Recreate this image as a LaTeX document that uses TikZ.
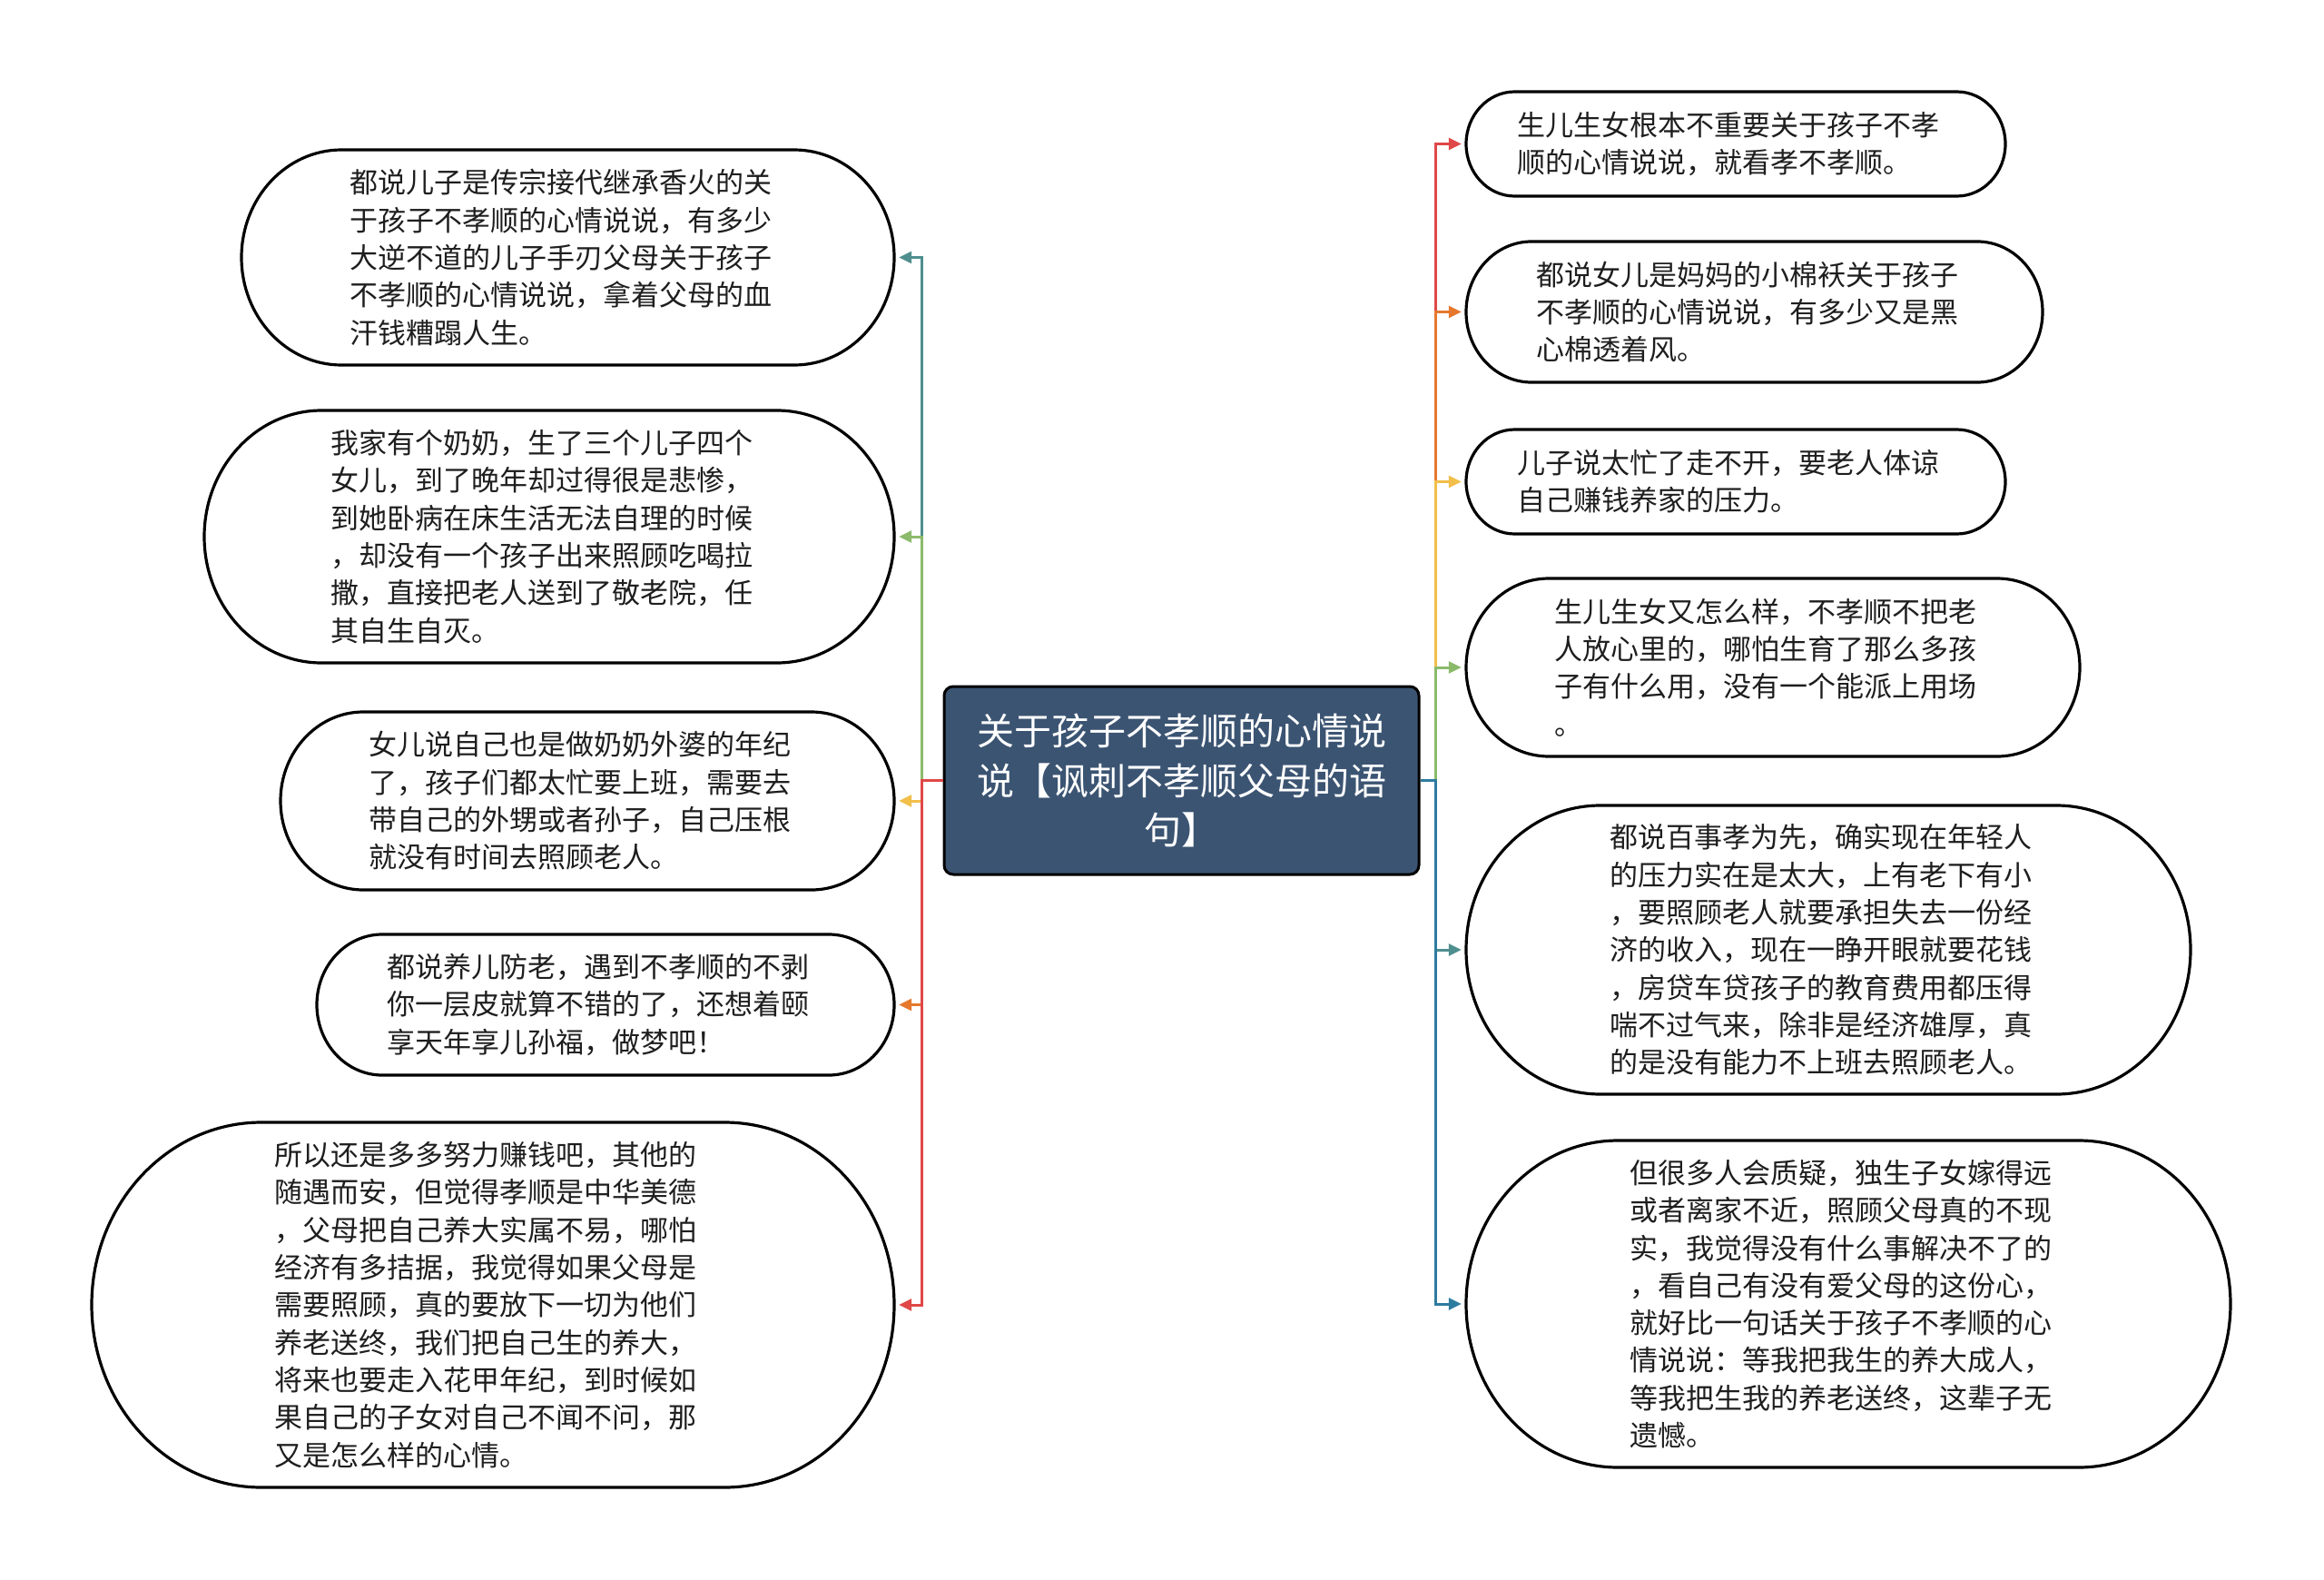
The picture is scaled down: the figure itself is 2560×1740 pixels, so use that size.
\documentclass[tikz,border=0pt]{standalone}
\usepackage{fontspec}
\setmainfont{Noto Sans CJK SC}
\usetikzlibrary{arrows.meta}
\definecolor{cteal}{HTML}{4F8E8E}
\definecolor{cgreen}{HTML}{8CBA6B}
\definecolor{cyellow}{HTML}{F2BF4A}
\definecolor{corange}{HTML}{E6782E}
\definecolor{cred}{HTML}{E04848}
\definecolor{cblue}{HTML}{2E7BA0}
\definecolor{cnavy}{HTML}{3B5472}
\definecolor{ctext}{HTML}{1E1E1E}
\tikzset{
  bubble/.style={draw=black, line width=3.2pt, fill=white},
  txt/.style={draw=none, inner sep=0pt, align=left, text=ctext,
    font=\fontsize{31}{41.3}\selectfont},
  central/.style={draw=black, line width=3pt, fill=cnavy, rounded corners=10pt,
    text=white, align=center, inner sep=0pt,
    minimum width=523pt, minimum height=207pt,
    font=\fontsize{41}{54.7}\selectfont},
  conn/.style={line width=3pt, -{Triangle[length=14pt,width=13pt]}, shorten >=5pt}
}
\newcommand\bub[6]{%
  \pgfmathsetmacro\bh{(#5-#3)/2}%
  \pgfmathsetmacro\br{0.93*\bh}%
  \pgfmathsetmacro\bw{#4-#2}%
  \pgfmathsetmacro\bhh{#5-#3}%
  \pgfmathsetmacro\cx{(#2+#4)/2}%
  \pgfmathsetmacro\cy{(#3+#5)/2}%
  \draw[bubble] ({#2+\br},#3) -- ({#4-\br},#3)
     arc[start angle=90,end angle=-90,x radius=\br pt,y radius=\bh pt]
     -- ({#2+\br},#5)
     arc[start angle=270,end angle=90,x radius=\br pt,y radius=\bh pt] -- cycle;
  \node[txt, minimum width=\bw pt, minimum height=\bhh pt] (#1)
     at (\cx,\cy) {};
  \node[txt] at (\cx-8,\cy) {#6};
}
\begin{document}
\begin{tikzpicture}[x=1pt,y=-1pt]
\useasboundingbox[fill=white] (0,0) rectangle (2560,1740);

% central node
\node[central] (c) at (1301.5,859.5) {关于孩子不孝顺的心情说\\说【讽刺不孝顺父母的语\\句】};

% left bubbles
\bub{l1}{266}{165}{985}{402}{都说儿子是传宗接代继承香火的关\\于孩子不孝顺的心情说说，有多少\\大逆不道的儿子手刃父母关于孩子\\不孝顺的心情说说，拿着父母的血\\汗钱糟蹋人生。}
\bub{l2}{225}{452}{985}{730}{我家有个奶奶，生了三个儿子四个\\女儿，到了晚年却过得很是悲惨，\\到她卧病在床生活无法自理的时候\\，却没有一个孩子出来照顾吃喝拉\\撒，直接把老人送到了敬老院，任\\其自生自灭。}
\bub{l3}{309}{784}{985}{980}{女儿说自己也是做奶奶外婆的年纪\\了，孩子们都太忙要上班，需要去\\带自己的外甥或者孙子，自己压根\\就没有时间去照顾老人。}
\bub{l4}{349}{1029}{985}{1184}{都说养儿防老，遇到不孝顺的不剥\\你一层皮就算不错的了，还想着颐\\享天年享儿孙福，做梦吧！}
\bub{l5}{101}{1236}{985}{1638}{所以还是多多努力赚钱吧，其他的\\随遇而安，但觉得孝顺是中华美德\\，父母把自己养大实属不易，哪怕\\经济有多拮据，我觉得如果父母是\\需要照顾，真的要放下一切为他们\\养老送终，我们把自己生的养大，\\将来也要走入花甲年纪，到时候如\\果自己的子女对自己不闻不问，那\\又是怎么样的心情。}

% right bubbles
\bub{r1}{1615}{101}{2209}{216}{生儿生女根本不重要关于孩子不孝\\顺的心情说说，就看孝不孝顺。}
\bub{r2}{1615}{266}{2250}{421}{都说女儿是妈妈的小棉袄关于孩子\\不孝顺的心情说说，有多少又是黑\\心棉透着风。}
\bub{r3}{1615}{473}{2209}{588}{儿子说太忙了走不开，要老人体谅\\自己赚钱养家的压力。}
\bub{r4}{1615}{637}{2291}{833}{生儿生女又怎么样，不孝顺不把老\\人放心里的，哪怕生育了那么多孩\\子有什么用，没有一个能派上用场\\。}
\bub{r5}{1615}{887}{2413}{1205}{都说百事孝为先，确实现在年轻人\\的压力实在是太大，上有老下有小\\，要照顾老人就要承担失去一份经\\济的收入，现在一睁开眼就要花钱\\，房贷车贷孩子的教育费用都压得\\喘不过气来，除非是经济雄厚，真\\的是没有能力不上班去照顾老人。}
\bub{r6}{1615}{1256}{2457}{1616}{但很多人会质疑，独生子女嫁得远\\或者离家不近，照顾父母真的不现\\实，我觉得没有什么事解决不了的\\，看自己有没有爱父母的这份心，\\就好比一句话关于孩子不孝顺的心\\情说说：等我把我生的养大成人，\\等我把生我的养老送终，这辈子无\\遗憾。}

% left connectors
\draw[conn, cteal]   (c.west) -- ++(-23,0) |- (l1.east);
\draw[conn, cgreen]  (c.west) -- ++(-23,0) |- (l2.east);
\draw[conn, cyellow] (c.west) -- ++(-23,0) |- (l3.east);
\draw[conn, corange] (c.west) -- ++(-23,0) |- (l4.east);
\draw[conn, cred]    (c.west) -- ++(-23,0) |- (l5.east);

% right connectors
\draw[conn, cred]    (c.east) -- ++(17,0) |- (r1.west);
\draw[conn, corange] (c.east) -- ++(17,0) |- (r2.west);
\draw[conn, cyellow] (c.east) -- ++(17,0) |- (r3.west);
\draw[conn, cgreen]  (c.east) -- ++(17,0) |- (r4.west);
\draw[conn, cteal]   (c.east) -- ++(17,0) |- (r5.west);
\draw[conn, cblue]   (c.east) -- ++(17,0) |- (r6.west);
\end{tikzpicture}
\end{document}
